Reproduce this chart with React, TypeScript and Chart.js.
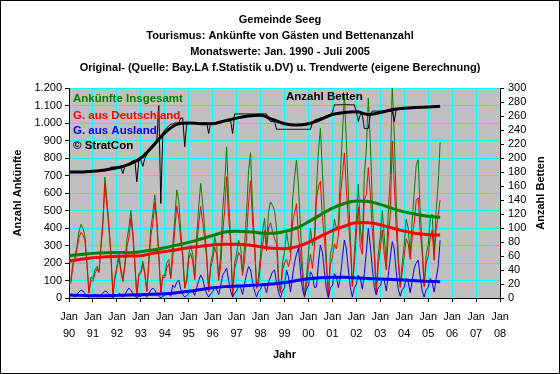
import React, { useEffect, useRef } from 'react';
import { Chart, registerables } from 'chart.js';

Chart.register(...registerables);

// ---------- DATA ----------
const TITLE_LINES = [
  'Gemeinde Seeg',
  'Tourismus: Ankünfte von Gästen und Bettenanzahl',
  'Monatswerte: Jan. 1990 - Juli 2005',
  'Original- (Quelle: Bay.LA f.Statistik u.DV) u. Trendwerte (eigene Berechnung)',
];
const YEAR_LABELS = ['90', '91', '92', '93', '94', '95', '96', '97', '98', '99', '00', '01', '02', '03', '04', '05', '06', '07', '08'];
const LEFT_TICKS = [0, 100, 200, 300, 400, 500, 600, 700, 800, 900, 1000, 1100, 1200];
const RIGHT_TICKS = [0, 20, 40, 60, 80, 100, 120, 140, 160, 180, 200, 220, 240, 260, 280, 300];

// monthly values Jan 1990 .. Jul 2005
const totalArrivals = [
  80, 110, 200, 230, 300, 380, 420, 400, 350, 200, 30, 120,
  110, 160, 180, 150, 300, 450, 690, 560, 420, 250, 20, 120,
  180, 250, 170, 100, 200, 330, 400, 500, 380, 200, 10, 140,
  150, 210, 150, 40, 220, 400, 480, 590, 450, 250, 30, 130,
  130, 200, 220, 120, 300, 450, 617, 560, 380, 250, 60, 110,
  250, 300, 250, 120, 360, 520, 655, 540, 400, 250, 40, 200,
  250, 350, 300, 120, 250, 500, 650, 864, 560, 350, 10, 200,
  250, 330, 300, 150, 300, 490, 725, 830, 520, 330, 60, 120,
  250, 380, 455, 300, 490, 550, 530, 500, 400, 120, 30, 200,
  260, 380, 300, 260, 550, 684, 789, 640, 400, 180, 10, 120,
  250, 400, 300, 350, 620, 840, 970, 720, 490, 225, 10, 250,
  300, 450, 400, 420, 700, 930, 1160, 900, 600, 350, 70, 250,
  450, 650, 400, 300, 700, 850, 1143, 900, 550, 300, 40, 250,
  350, 500, 350, 200, 480, 700, 1220, 930, 550, 250, 70, 200,
  300, 450, 400, 250, 450, 600, 760, 790, 500, 300, 70, 250,
  300, 450, 480, 250, 500, 650, 890,
];
const germanArrivals = [
  70, 90, 185, 225, 280, 345, 375, 360, 325, 190, 28, 105,
  95, 140, 165, 145, 285, 420, 650, 525, 400, 242, 18, 110,
  170, 225, 150, 95, 180, 290, 343, 455, 355, 190, 8, 130,
  140, 190, 135, 35, 195, 355, 423, 545, 425, 240, 28, 120,
  115, 170, 195, 110, 226, 390, 527, 457, 330, 230, 55, 95,
  225, 255, 210, 105, 300, 420, 524, 430, 340, 225, 35, 175,
  215, 290, 250, 100, 180, 370, 500, 693, 460, 310, 5, 170,
  210, 260, 240, 130, 220, 350, 545, 670, 430, 290, 55, 80,
  200, 295, 385, 270, 400, 430, 380, 340, 310, 85, 28, 160,
  200, 220, 180, 226, 430, 484, 539, 356, 250, 130, 0, 70,
  180, 250, 170, 290, 557, 640, 667, 460, 340, 175, 10, 190,
  230, 310, 280, 360, 580, 700, 829, 620, 440, 290, 65, 190,
  370, 519, 290, 250, 560, 590, 745, 600, 380, 240, 23, 190,
  280, 388, 250, 160, 350, 470, 898, 650, 400, 200, 60, 150,
  240, 338, 310, 220, 350, 430, 560, 573, 380, 260, 65, 200,
  240, 338, 390, 215, 390, 470, 560,
];
const foreignArrivals = [
  10, 20, 15, 5, 20, 35, 45, 40, 25, 10, 2, 15,
  15, 20, 15, 5, 15, 30, 40, 35, 20, 8, 2, 10,
  10, 25, 20, 5, 20, 40, 57, 45, 25, 10, 2, 10,
  10, 20, 15, 5, 25, 45, 57, 45, 25, 10, 2, 10,
  15, 30, 25, 10, 74, 60, 90, 103, 50, 20, 5, 15,
  25, 45, 40, 15, 60, 100, 131, 110, 60, 25, 5, 25,
  35, 60, 50, 20, 70, 130, 150, 171, 100, 40, 5, 30,
  40, 70, 60, 20, 80, 140, 180, 160, 90, 40, 5, 40,
  50, 85, 70, 30, 90, 120, 150, 160, 90, 35, 2, 40,
  60, 160, 120, 34, 120, 200, 250, 284, 150, 50, 10, 50,
  70, 150, 130, 60, 63, 200, 303, 260, 150, 50, 0, 60,
  70, 140, 120, 60, 120, 230, 331, 280, 160, 60, 5, 60,
  80, 131, 110, 50, 140, 260, 398, 300, 170, 60, 17, 60,
  70, 112, 100, 40, 130, 230, 322, 280, 150, 50, 10, 50,
  60, 112, 90, 30, 100, 170, 200, 217, 120, 40, 5, 50,
  60, 112, 90, 35, 110, 180, 330,
];
const beds = [
  180, 180, 180, 180, 180, 180, 180, 180, 180, 180, 180, 181,
  181, 181, 181, 181, 182, 182, 182, 182, 182, 187, 187, 187,
  187, 187, 187, 178, 188, 190, 192, 194, 196, 197, 166, 197,
  197, 188, 200, 205, 210, 215, 218, 220, 225, 275, 135, 235,
  240, 243, 246, 248, 249, 250, 250, 250, 257, 257, 216, 250,
  250, 250, 250, 250, 250, 250, 250, 250, 250, 250, 235, 250,
  250, 250, 250, 252, 252, 252, 253, 253, 253, 253, 235, 263,
  263, 263, 263, 263, 263, 263, 263, 263, 263, 263, 263, 263,
  263, 263, 263, 263, 256, 252, 252, 252, 241, 241, 241, 241,
  241, 241, 241, 241, 241, 241, 241, 241, 241, 241, 241, 241,
  241, 241, 250, 254, 255, 256, 257, 258, 259, 260, 261, 263,
  265, 276, 276, 276, 276, 276, 276, 276, 276, 276, 276, 276,
  266, 252, 262, 262, 242, 242, 242, 262, 267, 267, 267, 267,
  267, 267, 267, 267, 267, 267, 267, 252, 270, 271, 271, 271,
  271, 271, 272, 272, 272, 272, 272, 272, 273, 273, 273, 273,
  273, 273, 273, 274, 274, 274, 274,
];

// trend values, half-yearly (month index since Jan 1990)
const trendMonths = [0, 6, 12, 18, 24, 30, 36, 42, 48, 54, 60, 66, 72, 78, 84, 90, 96, 102, 108, 114, 120, 126, 132, 138, 144, 150, 156, 162, 168, 174, 180, 186];
const totalTrend = [242, 248, 255, 259, 260, 259, 265, 274, 287, 302, 318, 337, 357, 377, 381, 379, 372, 370, 380, 400, 435, 475, 513, 540, 554, 552, 535, 512, 492, 478, 467, 461];
const germanTrend = [211, 222, 230, 235, 238, 240, 242, 255, 265, 276, 287, 296, 303, 307, 307, 303, 293, 284, 282, 292, 318, 352, 385, 410, 430, 430, 418, 400, 382, 368, 362, 360];
const foreignTrend = [17, 15, 13, 13, 15, 17, 19, 21, 24, 30, 38, 48, 58, 65, 68, 71, 75, 80, 88, 100, 110, 116, 118, 118, 115, 112, 108, 106, 103, 99, 95, 93];
const bedsTrend = [180, 180, 181, 183, 186, 191, 200, 217, 236, 248, 250, 249, 249, 253, 257, 260, 261, 255, 249, 247, 249, 255, 262, 265, 266, 262, 265, 269, 271, 272, 273, 274];

// ---------- STYLE ----------
const FONT = 'Liberation Sans, Arial, sans-serif';
const GREEN = '#008000';
const RED = '#FF0000';
const BLUE = '#0000FF';
const BLACK = '#000000';

const monthly = (arr: number[]) => arr.map((v, i) => ({ x: i, y: v }));
const trend = (arr: number[]) => trendMonths.map((m, i) => ({ x: m, y: arr[i] }));
const fmtDe = (v: number) =>
  v >= 1000 ? Math.floor(v / 1000) + '.' + String(v % 1000).padStart(3, '0') : String(v);

const decorPlugin = {
  id: 'decor',
  beforeDraw(chart: any) {
    const { ctx, chartArea } = chart;
    ctx.save();
    ctx.fillStyle = '#FFFFFF';
    ctx.fillRect(0, 0, chart.width, chart.height);
    ctx.fillStyle = '#C0C0C0';
    ctx.fillRect(chartArea.left, chartArea.top, chartArea.right - chartArea.left, chartArea.bottom - chartArea.top);
    ctx.restore();
  },
  afterDraw(chart: any) {
    const { ctx, chartArea } = chart;
    ctx.save();
    // frame
    ctx.strokeStyle = BLACK;
    ctx.lineWidth = 1;
    ctx.strokeRect(0.5, 0.5, chart.width - 1, chart.height - 1);
    // titles
    ctx.fillStyle = BLACK;
    ctx.textAlign = 'center';
    ctx.textBaseline = 'middle';
    ctx.font = `bold 11px ${FONT}`;
    const ty = [20, 36, 52, 68];
    TITLE_LINES.forEach((t, i) => ctx.fillText(t, 280, ty[i]));
    // x title
    ctx.fillText('Jahr', (chartArea.left + chartArea.right) / 2, 355);
    // y titles
    const midY = (chartArea.top + chartArea.bottom) / 2;
    ctx.save();
    ctx.translate(18, midY);
    ctx.rotate(-Math.PI / 2);
    ctx.fillText('Anzahl Ankünfte', 0, 0);
    ctx.restore();
    ctx.save();
    ctx.translate(541, midY);
    ctx.rotate(-Math.PI / 2);
    ctx.fillText('Anzahl Betten', 0, 0);
    ctx.restore();
    // legend texts in plot
    ctx.textAlign = 'left';
    ctx.font = `bold 11.5px ${FONT}`;
    const legend: [string, string, number][] = [
      ['Ankünfte Insgesamt', GREEN, 99],
      ['G. aus Deutschland', RED, 115.5],
      ['G. aus Ausland', BLUE, 131],
      ['© StratCon', BLACK, 146],
    ];
    legend.forEach(([t, c, y]) => {
      ctx.fillStyle = c;
      ctx.fillText(t, chartArea.left + 4, y);
    });
    ctx.fillStyle = BLACK;
    ctx.fillText('Anzahl Betten', 286, 97);
    ctx.restore();
  },
};

export default function App() {
  const ref = useRef<HTMLCanvasElement | null>(null);

  useEffect(() => {
    document.body.style.margin = '0';
    const canvas = ref.current;
    if (!canvas) return;
    const tickFont = { family: FONT, size: 11 };
    const chart = new Chart(canvas, {
      type: 'line',
      data: {
        datasets: [
          { label: 'Ankünfte Insgesamt', data: monthly(totalArrivals), borderColor: GREEN, borderWidth: 1, pointRadius: 0, yAxisID: 'y', order: 9 },
          { label: 'G. aus Deutschland', data: monthly(germanArrivals), borderColor: RED, borderWidth: 1, pointRadius: 0, yAxisID: 'y', order: 8 },
          { label: 'G. aus Ausland', data: monthly(foreignArrivals), borderColor: BLUE, borderWidth: 1, pointRadius: 0, yAxisID: 'y', order: 7 },
          { label: 'Trend Insgesamt', data: trend(totalTrend), borderColor: GREEN, borderWidth: 3, pointRadius: 0, cubicInterpolationMode: 'monotone', yAxisID: 'y', order: 6 },
          { label: 'Trend Deutschland', data: trend(germanTrend), borderColor: RED, borderWidth: 3, pointRadius: 0, cubicInterpolationMode: 'monotone', yAxisID: 'y', order: 5 },
          { label: 'Trend Ausland', data: trend(foreignTrend), borderColor: BLUE, borderWidth: 3, pointRadius: 0, cubicInterpolationMode: 'monotone', yAxisID: 'y', order: 4 },
          { label: 'Anzahl Betten', data: monthly(beds), borderColor: BLACK, borderWidth: 1, pointRadius: 0, yAxisID: 'y1', order: 3 },
          { label: 'Trend Betten', data: trend(bedsTrend), borderColor: BLACK, borderWidth: 3, pointRadius: 0, cubicInterpolationMode: 'monotone', yAxisID: 'y1', order: 2 },
        ],
      } as any,
      options: {
        responsive: false,
        animation: false,
        events: [],
        layout: { padding: { top: 88, left: 0, right: 0, bottom: 0 } },
        plugins: { legend: { display: false }, tooltip: { enabled: false }, title: { display: false } },
        scales: {
          x: {
            type: 'linear',
            min: 0,
            max: (YEAR_LABELS.length - 1) * 12,
            afterFit: (s: any) => { s.height = 76; },
            afterBuildTicks: (s: any) => { s.ticks = YEAR_LABELS.map((_, i) => ({ value: i * 12 })); },
            ticks: {
              autoSkip: false,
              maxRotation: 0,
              minRotation: 0,
              color: BLACK,
              padding: 7,
              font: { ...tickFont, lineHeight: 1.5 },
              callback: (v: any) => ['Jan', YEAR_LABELS[Math.round(Number(v) / 12)]],
            },
            grid: { color: '#00FFFF', lineWidth: 1, tickColor: BLACK, tickLength: 4 },
            border: { color: BLACK, width: 1 },
          },
          y: {
            position: 'left',
            min: 0,
            max: 1200,
            afterFit: (s: any) => { s.width = 69; },
            afterBuildTicks: (s: any) => { s.ticks = LEFT_TICKS.map((v) => ({ value: v })); },
            ticks: { autoSkip: false, color: BLACK, padding: 3, font: tickFont, callback: (v: any) => fmtDe(Number(v)) },
            grid: { color: '#00FFFF', lineWidth: 1, tickColor: BLACK, tickLength: 4 },
            border: { color: BLACK, width: 1 },
          },
          y1: {
            position: 'right',
            min: 0,
            max: 300,
            afterFit: (s: any) => { s.width = 60; },
            afterBuildTicks: (s: any) => { s.ticks = RIGHT_TICKS.map((v) => ({ value: v })); },
            ticks: { autoSkip: false, color: BLACK, padding: 4, font: tickFont, callback: (v: any) => String(v) },
            grid: { drawOnChartArea: false, tickColor: BLACK, tickLength: 4 },
            border: { color: BLACK, width: 1 },
          },
        },
      } as any,
      plugins: [decorPlugin],
    });
    return () => chart.destroy();
  }, []);

  return (
    <div style={{ width: 560, height: 374 }}>
      <canvas ref={ref} width={560} height={374} style={{ display: 'block', width: 560, height: 374 }} />
    </div>
  );
}
